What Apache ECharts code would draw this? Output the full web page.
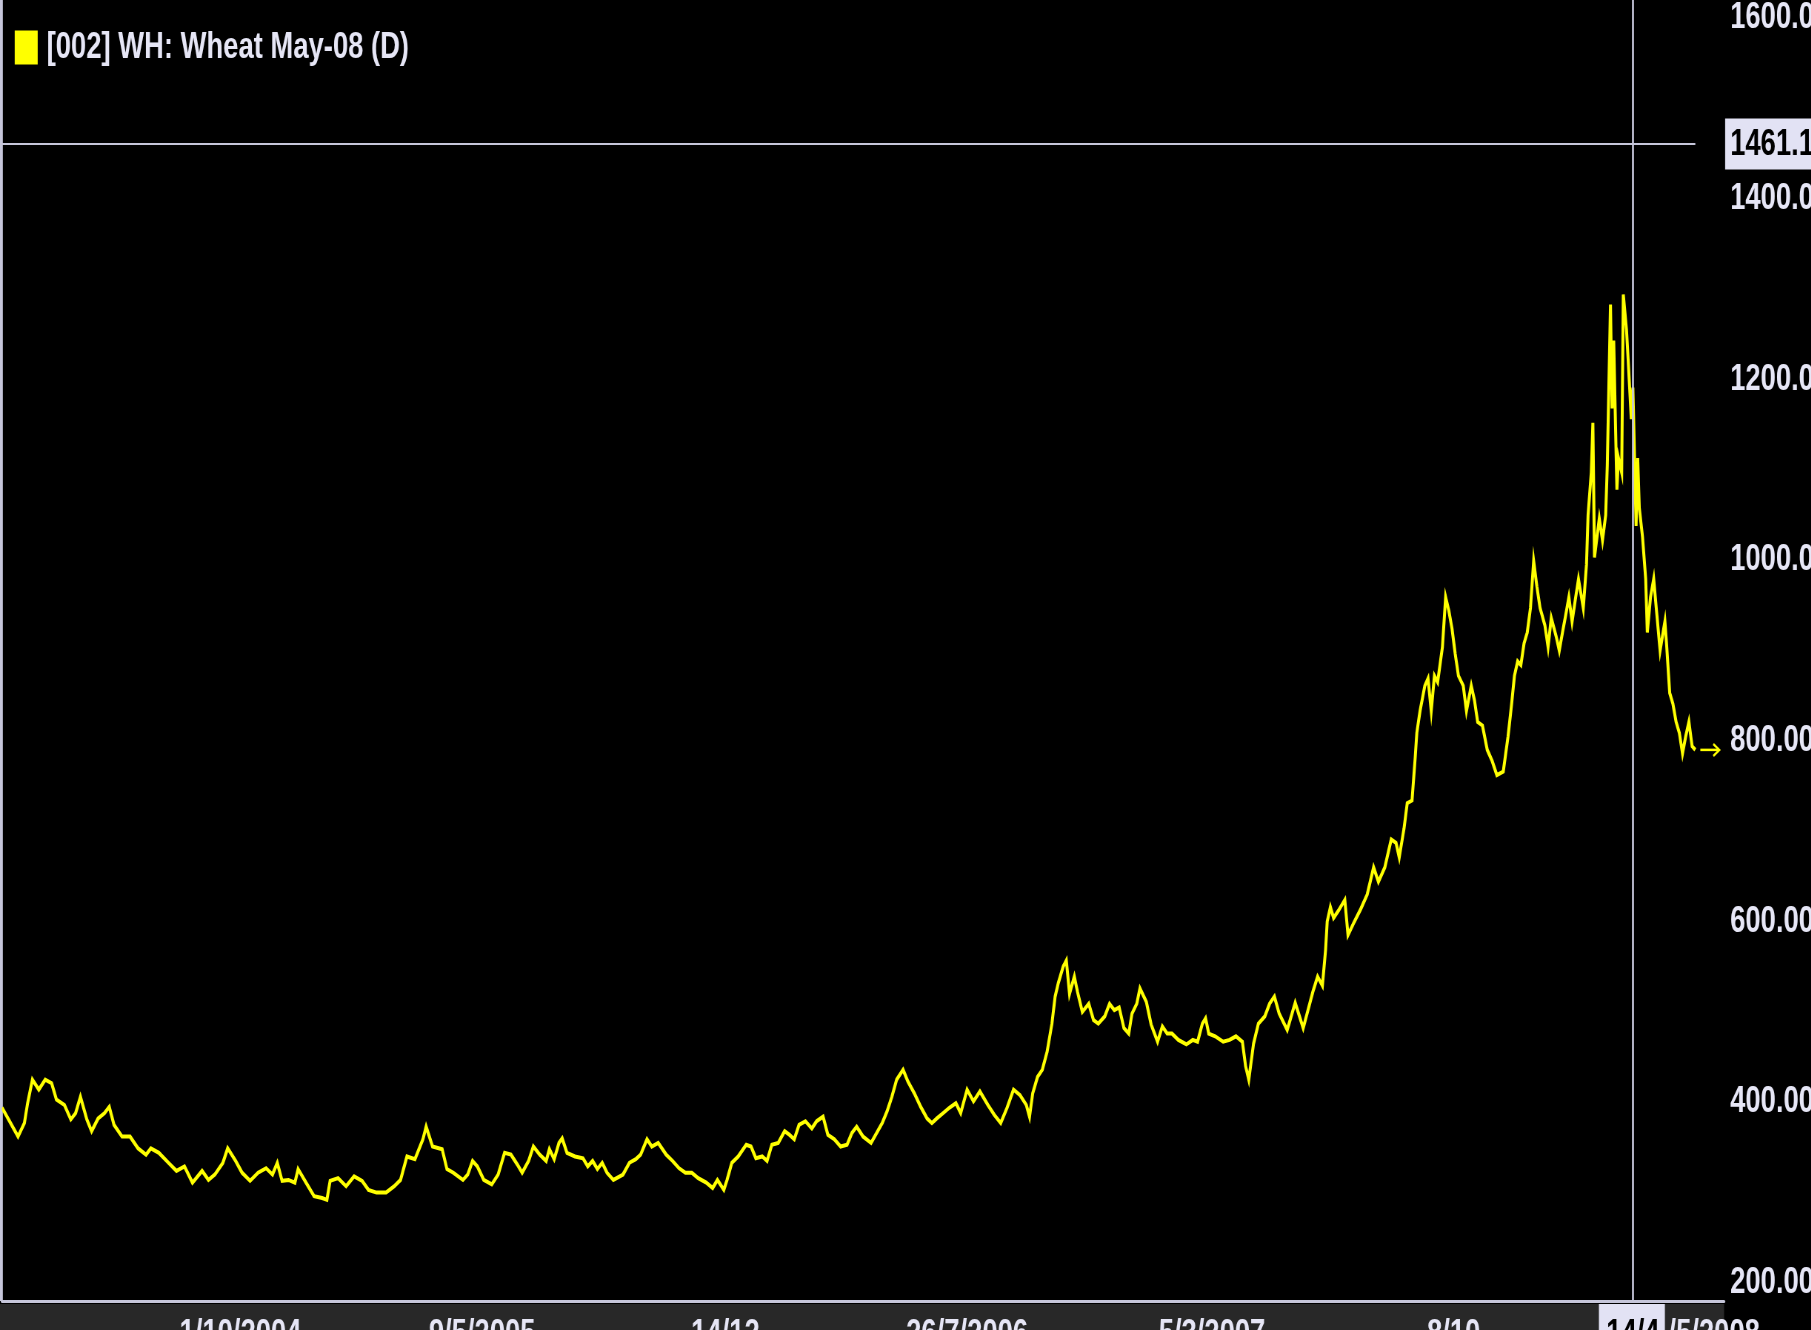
<!DOCTYPE html>
<html>
<head>
<meta charset="utf-8">
<script src="https://cdn.jsdelivr.net/npm/echarts@6/dist/echarts.min.js"></script>
<style>
html,body{margin:0;padding:0;background:#000;overflow:hidden;}
#wrap{width:1811px;height:1330px;overflow:hidden;position:relative;}
#c{height:1330px;transform-origin:0 0;}
</style>
</head>
<body>
<div id="wrap"><div id="c"></div></div>
<script>
// Trading-session index of each sampled bar
const sessionIdx = [0,10,14,16,19,23,27,31,34,39,43,46,49,53,56,60,64,67,70,75,80,85,90,93,98,104,109,114,119,125,129,133,138,141,146,150,155,160,165,169,172,175,179,183,185,190,195,200,203,205,210,215,220,225,229,234,240,245,249,253,258,263,265,269,
275,278,282,288,291,294,297,301,306,310,314,318,322,325,329,332,336,340,342,345,348,350,353,358,363,366,369,372,375,378,382,388,392,396,399,403,406,410,415,419,423,427,431,435,440,444,447,451,453,456,460,465,468,471,475,478,481,485,489,492,495,498,502,506,509,513,516,520,524,528,531,534,538,543,
550,553,556,559,563,566,570,574,578,581,584,588,592,596,599,603,607,611,616,620,624,628,632,636,640,642,644,647,650,653,656,658,660,663,665,667,670,672,675,679,682,685,689,692,695,698,701,704,706,709,711,715,718,722,725,728,731,735,740,744,747,750,752,754,758,763,767,771,775,777,779,782,785,789,792,795,798,
803,808,813,816,819,822,825,827,828,830,832,835,839,841,845,849,853,857,860,864,868,871,873,876,878,881,883,884,886,889,891,893,895,897,900,902,904,906,908,910,913,915,918,920,922,925,928,931,934,938,941,943,945,947,949,
951,953,955,957,959,961,964,966,968,971,973,975,977,979,981,983,985,988,990,991,993,994,995,998,1000,1002,1003,1005,1006,1007,1009,1010,1012,1013,1015,1016,1018,1019,1021,1022,1023,1025,1027,1028,1030,1032,1034,1036,1039,1040,1042,1044,1046,1048,1050,1052,1054,1056,1058];
// Price (cents/bushel)
const price = [394,362,377,399,425,414,425,421,403,397,381,388,406,381,368,382,388,395,375,362,362,349,342,349,344,333,324,329,311,324,314,320,333,349,335,322,313,322,327,320,333,313,314,311,326,311,296,294,292,313,316,307,318,313,303,300,300,307,314,340,337,359,373,351,
348,326,322,314,320,335,329,314,309,320,344,342,331,322,335,351,342,335,348,337,355,360,344,340,338,329,335,326,333,322,314,320,333,337,342,359,351,355,342,335,327,322,322,316,311,305,314,303,314,333,340,353,351,338,340,335,353,355,368,364,359,375,379,371,379,384,364,359,351,353,366,373,362,355,
377,390,406,425,436,423,410,395,382,377,382,388,394,399,388,414,401,412,397,386,377,394,414,408,397,384,410,428,436,456,487,517,532,550,557,520,539,522,500,509,491,487,495,509,502,505,482,476,498,509,526,511,486,467,484,476,476,469,464,469,467,487,493,476,473,467,469,473,467,440,425,465,487,495,509,517,498,
480,510,482,502,522,539,529,569,600,616,604,612,624,585,600,614,630,660,644,660,691,687,671,703,731,734,782,809,833,861,869,833,872,865,904,959,944,924,896,872,861,833,861,845,821,817,790,778,762,766,805,837,872,888,884,
908,920,947,999,971,947,928,904,936,916,900,920,939,959,932,956,979,947,995,1050,1097,1152,1003,1046,1022,1050,1105,1283,1168,1243,1078,1113,1097,1294,1255,1223,1156,1191,1038,1113,1058,1026,979,920,959,979,939,900,932,908,853,841,821,809,786,805,821,794,790];

const seriesName = '[002] WH: Wheat May-08 (D)';
const xTickIdx = [149,300,452,603,756,907,1065];
const xTickLabels = ['1/10/2004','9/5/2005','14/12','26/7/2006','5/3/2007','8/10','1/5/2008'];
const yTicks = [200,400,600,800,1000,1200,1400,1600];
const crossIdx = 1019;
const crossLabel = '14/4';
const crossPrice = 1461.1;
const xMin = 0, xMax = 1076, yMin = 180, yMax = 1620;

// The source picture uses a tall, narrow typeface: draw wide, then squeeze horizontally.
const SX = 1.35;
const W = 1811, H = 1330;
const el = document.getElementById('c');
el.style.width = Math.round(W*SX)+'px';
el.style.transform = 'scaleX('+(1/SX)+')';

const FONT = '"Liberation Sans","Arimo",Arial,sans-serif';
const TXT = '#e6e6f6';
const LINE = '#c6c6da';

const data = sessionIdx.map((d,i)=>[d, price[i]]);
const chart = echarts.init(el, null, {renderer:'canvas', width:Math.round(W*SX), height:H});
const option = {
  backgroundColor:'#000',
  animation:false,
  grid:{left:2*SX,right:87*SX,top:0,bottom:29,containLabel:false,outerBoundsMode:'none'},
  legend:{
    show:true,left:11*SX,top:24,icon:'rect',itemWidth:23*SX,itemHeight:34,itemGap:10,
    textStyle:{color:TXT,fontSize:37,fontFamily:FONT,fontWeight:'bold',padding:[2,0,0,7]},
    data:[seriesName], selectedMode:false
  },
  xAxis:{
    type:'value',min:xMin,max:xMax,
    axisLine:{show:true,onZero:false,lineStyle:{color:LINE,width:3}},
    axisTick:{show:false},splitLine:{show:false},
    axisLabel:{
      customValues:xTickIdx,
      formatter:(v)=>{const i=xTickIdx.indexOf(v);return i>=0?xTickLabels[i]:'';},
      color:TXT,fontSize:37,fontFamily:FONT,fontWeight:'bold',margin:15,verticalAlign:'top'
    }
  },
  yAxis:{
    type:'value',position:'right',min:yMin,max:yMax,
    axisLine:{show:true,lineStyle:{color:LINE,width:2*SX}},
    axisTick:{show:false},splitLine:{show:false},
    axisLabel:{
      customValues:yTicks,
      formatter:(v)=>v.toFixed(2),
      color:TXT,fontSize:37,fontFamily:FONT,fontWeight:'bold',margin:6*SX,align:'left',verticalAlign:'middle'
    }
  },
  series:[{
    name:seriesName,type:'line',data:data,showSymbol:false,symbol:'none',
    itemStyle:{color:'#ffff00'},
    lineStyle:{color:'#ffff00',width:4,join:'miter'},
    markLine:{
      silent:true,symbol:['none','none'],animation:false,
      label:{show:false},
      lineStyle:{color:LINE,width:2,type:'solid'},
      data:[
        {xAxis:crossIdx,lineStyle:{color:LINE,width:2*SX,type:'solid'}},
        [{coord:[xMin,crossPrice]},{coord:[sessionIdx[sessionIdx.length-1],crossPrice]}]
      ]
    }
  }]
};
chart.setOption(option);

function addGraphics(){
  const gb = chart.getModel().getComponent('grid').coordinateSystem.getRect();
  const pCross = chart.convertToPixel({gridIndex:0},[crossIdx,crossPrice]);
  const last = data[data.length-1];
  const pLast = chart.convertToPixel({gridIndex:0},last);
  const bottom = gb.y+gb.height;
  const right = gb.x+gb.width;
  const ax = pLast[0]+5*SX, ay = pLast[1];
  const font = 'bold 37px '+FONT;
  chart.setOption({graphic:[
    {type:'rect',z:-5,silent:true,shape:{x:0,y:bottom+3,width:right,height:H-bottom},style:{fill:'#282828'}},
    {type:'line',z:50,silent:true,shape:{x1:1*SX,y1:0,x2:1*SX,y2:bottom},style:{stroke:LINE,lineWidth:2*SX}},
    {type:'rect',z:100,silent:true,shape:{x:right+1*SX,y:pCross[1]-25,width:W*SX-right,height:51},style:{fill:'#e2e2f4'}},
    {type:'text',z:101,silent:true,x:right+6*SX,y:pCross[1]+1,style:{text:crossPrice.toFixed(2),fill:'#000',font:font,verticalAlign:'middle',align:'left'}},
    {type:'rect',z:100,silent:true,shape:{x:pCross[0]-34*SX,y:bottom+3,width:66*SX,height:H-bottom},style:{fill:'#e2e2f4'}},
    {type:'text',z:101,silent:true,x:pCross[0],y:bottom+15,style:{text:crossLabel,fill:'#000',font:font,align:'center',verticalAlign:'top'}},
    {type:'polyline',z:60,silent:true,shape:{points:[[ax,ay],[ax+19*SX,ay]]},style:{stroke:'#ffff00',lineWidth:2.5}},
    {type:'polyline',z:60,silent:true,shape:{points:[[ax+13*SX,ay-6],[ax+19*SX,ay],[ax+13*SX,ay+6]]},style:{stroke:'#ffff00',lineWidth:2.5,fill:null}}
  ]});
}
addGraphics();
</script>
</body>
</html>
